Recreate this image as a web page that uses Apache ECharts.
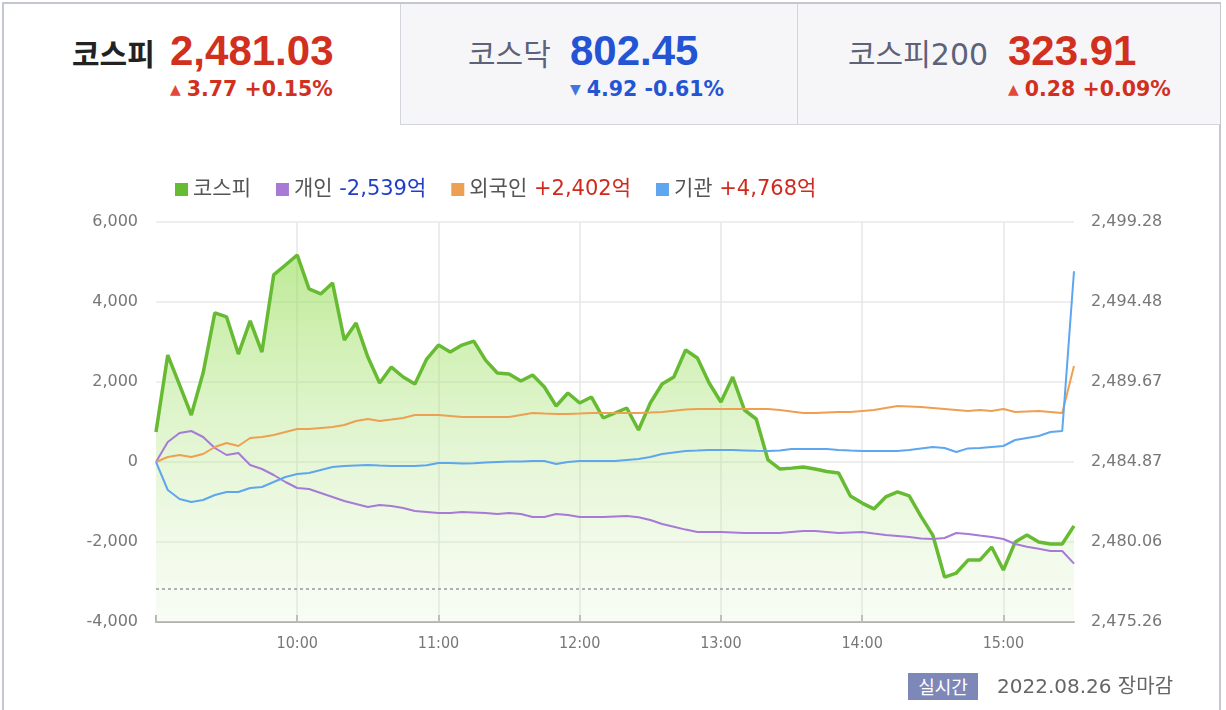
<!DOCTYPE html>
<html>
<head>
<meta charset="utf-8">
<script src="https://cdn.jsdelivr.net/npm/echarts@6/dist/echarts.min.js"></script>
<style>
  html, body { margin: 0; padding: 0; background: #fff; }
  #page { position: relative; width: 1226px; height: 710px; overflow: hidden; background: #fff; }
  .frame { position: absolute; left: 2px; top: 2px; width: 1219px; height: 720px; border: 2px solid #c4c7cf; border-bottom: none; box-sizing: border-box; }
  .tab { position: absolute; top: 4px; height: 121px; box-sizing: border-box; }
  .tab.off { background: #f6f6f9; border-bottom: 1px solid #d3d5dc; }
  .tab.sep { border-left: 1px solid #d3d5dc; }
  .row { position: absolute; top: 30px; display: flex; align-items: baseline; white-space: nowrap; line-height: 42px; }
  .nm { display: inline-block; font-family: "DejaVu Sans", "Noto Sans CJK KR", sans-serif; font-size: 30px; color: #5d6279; }
  .nm.on { color: #222; font-weight: 700; font-family: "Noto Sans CJK KR", sans-serif; }
  .val { font-family: "Liberation Sans", Arial, sans-serif; font-weight: 700; font-size: 42px; }
  .sub { position: absolute; top: 80px; font-family: "DejaVu Sans", sans-serif; font-weight: 700; font-size: 20.5px; line-height: 19px; white-space: nowrap; }
  .sub .arw { font-size: 14px; margin-right: 6px; vertical-align: 2px; }
  .up { color: #d2301f; }
  .up .arw { color: #e2493a; }
  .dn { color: #2354d4; }
  .dn .arw { color: #3f75e0; }
  #chart { position: absolute; left: 0; top: 0; width: 1226px; height: 710px; }
  .badge { position: absolute; left: 908px; top: 673px; width: 70px; height: 27px; background: #7d88b9; color: #fff; font-family: "Noto Sans CJK KR", sans-serif; font-size: 18px; line-height: 27px; text-align: center; }
  .date { position: absolute; left: 997px; top: 673px; font-family: "DejaVu Sans", "Noto Sans CJK KR", sans-serif; font-size: 20px; line-height: 27px; color: #666; white-space: nowrap; }
</style>
</head>
<body>
<div id="page">
  <div class="frame"></div>
  <div id="tabs"></div>
  <div id="chart"></div>
  <div class="badge">실시간</div>
  <div class="date">2022.08.26 장마감</div>
</div>
<script>
// header indices
const idxNames = ['코스피', '코스닥', '코스피200']
const idxValues = ['2,481.03', '802.45', '323.91']
const idxChanges = ['3.77 +0.15%', '4.92 -0.61%', '0.28 +0.09%']
const idxUp = [true, false, true]

// intraday, 5 minute steps
const times = ['09:00', '09:05', '09:10', '09:15', '09:20', '09:25', '09:30', '09:35', '09:40', '09:45', '09:50', '09:55',
  '10:00', '10:05', '10:10', '10:15', '10:20', '10:25', '10:30', '10:35', '10:40', '10:45', '10:50', '10:55',
  '11:00', '11:05', '11:10', '11:15', '11:20', '11:25', '11:30', '11:35', '11:40', '11:45', '11:50', '11:55',
  '12:00', '12:05', '12:10', '12:15', '12:20', '12:25', '12:30', '12:35', '12:40', '12:45', '12:50', '12:55',
  '13:00', '13:05', '13:10', '13:15', '13:20', '13:25', '13:30', '13:35', '13:40', '13:45', '13:50', '13:55',
  '14:00', '14:05', '14:10', '14:15', '14:20', '14:25', '14:30', '14:35', '14:40', '14:45', '14:50', '14:55',
  '15:00', '15:05', '15:10', '15:15', '15:20', '15:25', '15:30']

const kospi = [2486.67, 2491.29, 2489.5, 2487.69, 2490.21, 2493.82, 2493.58, 2491.35, 2493.34, 2491.47, 2496.10, 2496.70,
  2497.30, 2495.26, 2494.96, 2495.62, 2492.19, 2493.21, 2491.17, 2489.61, 2490.57, 2489.97, 2489.55, 2491.05,
  2491.89, 2491.47, 2491.89, 2492.13, 2490.99, 2490.21, 2490.15, 2489.73, 2490.09, 2489.37, 2488.23, 2489.01,
  2488.41, 2488.77, 2487.51, 2487.81, 2488.11, 2486.79, 2488.41, 2489.55, 2489.97, 2491.59, 2491.11, 2489.61,
  2488.47, 2489.97, 2487.99, 2487.45, 2484.99, 2484.45, 2484.50, 2484.57, 2484.45, 2484.30, 2484.21, 2482.83,
  2482.40, 2482.05, 2482.77, 2483.07, 2482.83, 2481.60, 2480.48, 2477.96, 2478.20, 2478.98, 2478.98, 2479.76,
  2478.38, 2480.06, 2480.48, 2480.06, 2479.94, 2479.94, 2481.03]

const personal = [0, 500, 725, 775, 625, 350, 175, 225, -75, -175, -325, -500,
  -650, -675, -775, -875, -975, -1050, -1125, -1075, -1100, -1150, -1225, -1250,
  -1275, -1275, -1250, -1260, -1275, -1300, -1275, -1300, -1375, -1375, -1300, -1325,
  -1375, -1375, -1375, -1360, -1350, -1380, -1450, -1550, -1620, -1690, -1750, -1750,
  -1750, -1760, -1775, -1775, -1775, -1775, -1750, -1725, -1725, -1750, -1775, -1760,
  -1750, -1790, -1825, -1850, -1875, -1915, -1925, -1900, -1775, -1800, -1840, -1875,
  -1925, -2050, -2120, -2170, -2225, -2225, -2539]

const foreign = [0, 125, 175, 125, 200, 375, 475, 400, 600, 625, 675, 750,
  825, 825, 850, 875, 925, 1025, 1075, 1025, 1060, 1100, 1175, 1175,
  1175, 1150, 1125, 1125, 1125, 1125, 1125, 1175, 1225, 1210, 1200, 1200,
  1210, 1225, 1225, 1225, 1225, 1225, 1235, 1250, 1280, 1310, 1325, 1325,
  1325, 1325, 1325, 1325, 1325, 1300, 1260, 1225, 1225, 1240, 1250, 1250,
  1275, 1300, 1350, 1400, 1390, 1375, 1350, 1325, 1300, 1275, 1300, 1275,
  1325, 1250, 1265, 1275, 1250, 1225, 2402]

const institution = [0, -700, -925, -1000, -950, -825, -750, -750, -650, -625, -500, -375,
  -300, -275, -200, -125, -100, -85, -75, -90, -100, -100, -100, -80,
  -25, -25, -40, -30, -15, 0, 10, 15, 25, 25, -50, 0,
  25, 25, 25, 25, 50, 75, 125, 200, 240, 275, 285, 300,
  300, 300, 290, 280, 275, 290, 325, 325, 325, 325, 300, 285,
  275, 275, 275, 275, 300, 340, 375, 350, 250, 340, 350, 375,
  400, 550, 600, 650, 750, 775, 4768]

const prevClose = 2477.26
const rightTicks = [2475.26, 2480.06, 2484.87, 2489.67, 2494.48, 2499.28]
const seriesNames = ['코스피', '개인', '외국인', '기관']
const legendValues = ['', '-2,539억', '+2,402억', '+4,768억']

// header tabs
const tabBoxes = [[4, 396], [400, 397], [797, 423]]
const tabText = [[72, 170], [468, 570], [848, 1008]]
let html = ''
idxNames.forEach((n, i) => {
  const b = tabBoxes[i]
  const t = tabText[i]
  const cls = i === 0 ? 'tab' : 'tab off sep'
  const col = idxUp[i] ? 'up' : 'dn'
  html += '<div class="' + cls + '" style="left:' + b[0] + 'px;width:' + b[1] + 'px"></div>'
  html += '<div class="row" style="left:' + t[0] + 'px"><span class="nm' + (i === 0 ? ' on' : '') + '" style="width:' + (t[1] - t[0]) + 'px">' + n +
    '</span><span class="val ' + col + '">' + idxValues[i] + '</span></div>'
  html += '<div class="sub ' + col + '" style="left:' + t[1] + 'px"><span class="arw">' + (idxUp[i] ? '▲' : '▼') + '</span>' + idxChanges[i] + '</div>'
})
document.getElementById('tabs').innerHTML = html

const chart = echarts.init(document.getElementById('chart'))
const hourTick = i => i % 12 === 0 && i < times.length - 1
const hourLabel = i => i % 12 === 0 && i > 0 && i < times.length - 1
const legendFont = '"DejaVu Sans", "Noto Sans CJK KR", sans-serif'

chart.setOption({
  animation: false,
  color: ['#66bb33', '#a77ad6', '#eea052', '#5ea6ee'],
  legend: {
    data: seriesNames,
    left: 170,
    top: 174,
    icon: 'rect',
    itemWidth: 13,
    itemHeight: 13,
    itemGap: 25,
    itemStyle: { borderWidth: 0 },
    textStyle: {
      fontFamily: legendFont,
      fontSize: 21,
      color: '#555',
      rich: {
        n: { fontFamily: legendFont, fontSize: 21, color: '#555' },
        neg: { fontFamily: legendFont, fontSize: 21, color: '#1f3fc8' },
        pos: { fontFamily: legendFont, fontSize: 21, color: '#d02a1e' }
      }
    },
    formatter: name => {
      const v = legendValues[seriesNames.indexOf(name)]
      if (!v) return '{n|' + name + '}'
      return '{n|' + name + '} {' + (v[0] === '-' ? 'neg' : 'pos') + '|' + v + '}'
    }
  },
  grid: { left: 156, right: 152, top: 222, bottom: 88 },
  xAxis: {
    type: 'category',
    data: times,
    boundaryGap: false,
    axisLine: { onZero: false, lineStyle: { color: '#b3b3b3', width: 2 } },
    axisTick: { inside: true, length: 7, interval: hourTick, lineStyle: { color: '#b3b3b3', width: 2 } },
    axisLabel: {
      interval: hourLabel,
      margin: 14,
      color: '#777',
      fontFamily: '"DejaVu Sans Condensed", "Liberation Sans Narrow", sans-serif',
      fontSize: 16
    },
    splitLine: { show: true, interval: hourLabel, lineStyle: { color: '#e6e6e6', width: 1.5 } }
  },
  yAxis: [{
    type: 'value',
    min: -4000,
    max: 6000,
    interval: 2000,
    axisLine: { show: false },
    axisTick: { show: false },
    axisLabel: {
      margin: 18,
      color: '#777',
      fontFamily: 'DejaVu Sans',
      fontSize: 16,
      formatter: v => v.toLocaleString('en-US')
    },
    splitLine: { lineStyle: { color: '#e8e8e8', width: 1.5 } }
  }, {
    type: 'value',
    position: 'right',
    min: rightTicks[0],
    max: rightTicks[rightTicks.length - 1],
    axisLine: { show: false },
    axisTick: { show: false },
    splitLine: { show: false },
    axisLabel: {
      customValues: rightTicks,
      margin: 17,
      color: '#777',
      fontFamily: 'DejaVu Sans',
      fontSize: 16,
      formatter: v => Number(v).toLocaleString('en-US', { minimumFractionDigits: 2, maximumFractionDigits: 2 })
    }
  }],
  series: [{
    name: '코스피',
    type: 'line',
    yAxisIndex: 1,
    data: kospi,
    showSymbol: false,
    lineStyle: { width: 3.5, color: '#66bb33' },
    areaStyle: {
      origin: 'start',
      color: new echarts.graphic.LinearGradient(0, 0, 0, 1, [
        { offset: 0, color: 'rgba(145,220,78,0.85)' },
        { offset: 1, color: 'rgba(222,242,205,0.3)' }
      ])
    },
    markLine: {
      silent: true,
      symbol: 'none',
      label: { show: false },
      lineStyle: { type: [3, 3], color: '#9a9a9a', width: 1.5 },
      data: [{ yAxis: prevClose }]
    }
  }, {
    name: '개인',
    type: 'line',
    data: personal,
    showSymbol: false,
    lineStyle: { width: 2 }
  }, {
    name: '외국인',
    type: 'line',
    data: foreign,
    showSymbol: false,
    lineStyle: { width: 2 }
  }, {
    name: '기관',
    type: 'line',
    data: institution,
    showSymbol: false,
    lineStyle: { width: 2 }
  }]
})
</script>
</body>
</html>
